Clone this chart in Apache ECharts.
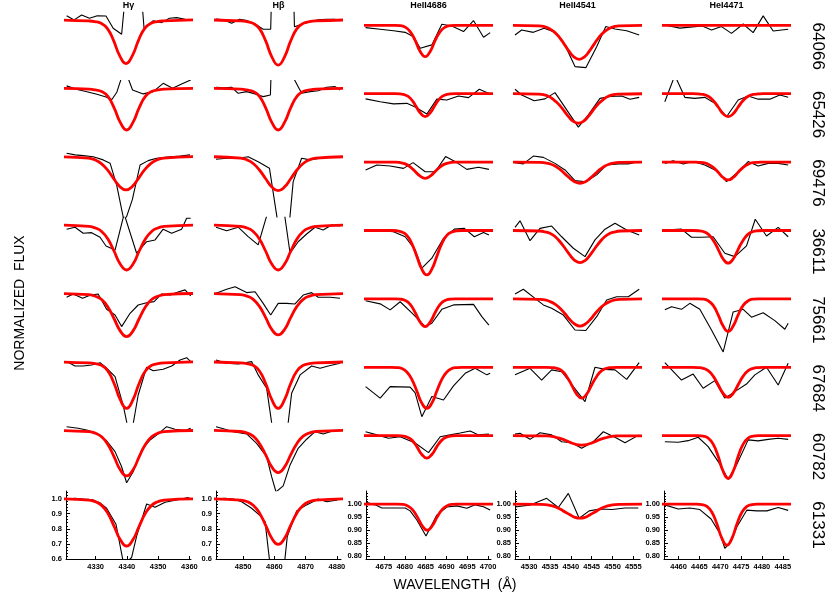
<!DOCTYPE html>
<html>
<head>
<meta charset="utf-8">
<script src="https://cdn.jsdelivr.net/npm/echarts@6/dist/echarts.min.js"></script>
<style>
  html, body { margin: 0; background: #fff; }
  #chart { width: 830px; height: 608px; }
</style>
</head>
<body>
<div id="chart"></div>
<script>
const stars = ['64066', '65426', '69476', '36611', '75661', '67684', '60782', '61331']
const lineNames = ['H\u03b3', 'H\u03b2', 'HeII4686', 'HeII4541', 'HeI4471']

const wlRanges = [[4320.5, 4360.5], [4841.3, 4881.3], [4670.7, 4700.7], [4526.6, 4556.6], [4456.5, 4486.5]]
const xTicks = [
  [4330, 4340, 4350, 4360],
  [4850, 4860, 4870, 4880],
  [4675, 4680, 4685, 4690, 4695, 4700],
  [4530, 4535, 4540, 4545, 4550, 4555],
  [4460, 4465, 4470, 4475, 4480, 4485]
]
const yRangeH = [0.6, 1.05]
const yRangeHe = [0.79, 1.05]
const yTicksH = [0.6, 0.7, 0.8, 0.9, 1.0]
const yTicksHe = [0.80, 0.85, 0.90, 0.95, 1.00]
const yMinorH = [0.62, 0.64, 0.66, 0.68, 0.72, 0.74, 0.76, 0.78, 0.82, 0.84, 0.86, 0.88, 0.92, 0.94, 0.96, 0.98, 1.02, 1.04]
const yMinorHe = [0.81, 0.82, 0.83, 0.84, 0.86, 0.87, 0.88, 0.89, 0.91, 0.92, 0.93, 0.94, 0.96, 0.97, 0.98, 0.99, 1.01, 1.02, 1.03, 1.04]

// observed spectra, [wavelength, flux], one array per star (top to bottom)
const obsHg = [
  [[4320.7,1.027],[4323.1,0.999],[4325.5,1.032],[4328.0,1.010],[4330.5,1.027],[4333.3,1.025],[4335.6,0.944],[4338.3,0.904],[4340.8,1.45],[4343.0,1.60],[4345.5,0.937],[4348.4,0.994],[4351.1,0.981],[4353.6,1.010],[4355.9,1.014],[4358.6,1.003],[4360.4,0.999]],
  [[4320.7,1.015],[4324.1,0.991],[4327.5,0.975],[4330.4,0.960],[4333.3,0.942],[4335.2,0.925],[4336.8,0.975],[4339.2,1.13],[4341.8,0.988],[4345.2,0.962],[4348.4,0.977],[4351.6,1.032],[4354.6,0.999],[4357.5,1.028],[4360.4,1.054]],
  [[4320.7,1.022],[4323.4,1.011],[4326.0,1.006],[4329.2,0.999],[4332.4,0.978],[4334.6,0.956],[4336.7,0.812],[4339.2,0.560],[4341.7,0.713],[4344.2,0.944],[4346.8,0.973],[4349.5,0.989],[4353.8,0.999],[4357.0,1.004],[4360.2,1.011]],
  [[4320.7,0.972],[4323.4,0.985],[4326.0,0.945],[4328.7,0.949],[4331.4,0.919],[4333.3,0.861],[4336.2,0.834],[4339.1,1.073],[4343.1,0.813],[4346.3,0.889],[4349.0,0.901],[4351.6,0.972],[4354.3,0.945],[4357.5,0.972],[4359.1,1.044],[4360.4,1.044]],
  [[4320.7,0.974],[4322.8,0.996],[4325.8,0.968],[4328.4,0.989],[4330.8,0.996],[4333.5,0.895],[4336.2,0.857],[4338.3,0.780],[4341.0,0.868],[4343.6,0.923],[4346.3,0.938],[4348.7,0.945],[4351.1,0.996],[4353.8,0.989],[4355.9,1.005],[4358.6,1.023],[4360.4,0.983]],
  [[4320.7,1.001],[4323.4,0.972],[4326.0,0.972],[4328.7,0.979],[4331.4,0.994],[4333.5,0.957],[4336.2,0.901],[4338.9,0.703],[4341.1,0.482],[4343.6,0.780],[4346.3,0.964],[4348.4,0.941],[4351.6,0.950],[4354.3,0.972],[4357.0,1.012],[4359.1,1.027],[4360.4,1.001]],
  [[4320.7,1.023],[4324.4,1.013],[4327.1,1.001],[4330.3,0.979],[4333.5,0.930],[4336.2,0.858],[4338.3,0.758],[4339.9,0.652],[4342.0,0.725],[4344.7,0.869],[4347.4,0.935],[4350.0,0.975],[4352.7,1.023],[4355.4,1.006],[4358.6,0.997],[4360.4,1.013]],
  [[4320.7,0.997],[4323.4,1.002],[4326.0,0.997],[4329.2,0.991],[4331.4,0.971],[4333.5,0.936],[4336.5,0.830],[4339.0,0.560],[4341.5,0.610],[4343.2,0.759],[4346.3,0.964],[4349.0,0.942],[4352.2,0.976],[4355.9,0.991],[4359.6,1.006],[4360.5,0.997]]
]
const obsHb = [
  [[4841.3,1.005],[4843.9,0.999],[4846.3,0.977],[4848.8,1.003],[4851.3,0.994],[4853.8,0.972],[4856.4,0.937],[4858.8,0.937],[4861.3,3.0],[4863.9,3.0],[4866.4,0.954],[4869.0,0.972],[4871.4,0.987],[4874.0,0.999],[4876.7,1.003],[4879.2,1.003],[4881.0,0.994]],
  [[4841.3,1.006],[4843.9,1.003],[4846.3,1.006],[4848.4,0.966],[4851.1,0.977],[4853.8,0.962],[4856.4,0.944],[4858.7,0.955],[4861.2,2.5],[4863.7,2.0],[4866.3,1.06],[4868.7,0.966],[4871.4,0.977],[4874.0,0.983],[4876.7,1.006],[4879.4,1.010],[4881.0,0.988]],
  [[4841.3,0.982],[4844.7,0.989],[4848.4,0.989],[4851.6,0.999],[4854.8,0.966],[4858.4,0.923],[4860.9,0.587],[4863.4,0.25],[4866.0,0.834],[4868.7,0.989],[4871.4,0.978],[4874.6,0.989],[4877.8,0.999],[4881.0,0.999]],
  [[4841.3,0.985],[4844.7,0.962],[4848.4,0.985],[4851.6,0.923],[4854.8,0.868],[4857.6,1.066],[4860.0,1.25],[4862.4,1.19],[4865.0,0.813],[4867.6,0.889],[4870.3,0.940],[4873.0,0.985],[4875.6,0.967],[4878.3,1.000],[4881.0,0.993]],
  [[4841.3,1.001],[4844.7,1.027],[4847.4,1.044],[4851.1,1.005],[4853.8,1.011],[4856.4,0.934],[4858.8,0.857],[4861.2,0.934],[4863.9,0.934],[4866.6,0.930],[4869.2,0.989],[4871.9,1.005],[4874.0,0.974],[4877.8,0.974],[4881.0,0.968]],
  [[4841.3,1.012],[4844.7,0.990],[4848.4,0.985],[4852.7,1.001],[4854.8,0.913],[4857.5,0.825],[4860.0,0.47],[4862.5,0.26],[4865.5,0.791],[4868.2,0.913],[4871.9,0.972],[4874.6,0.957],[4877.2,0.972],[4881.0,0.990]],
  [[4841.3,1.023],[4843.1,1.013],[4846.8,0.990],[4851.1,0.975],[4854.3,0.913],[4857.5,0.825],[4859.1,0.692],[4860.5,0.591],[4862.8,0.631],[4865.0,0.770],[4867.6,0.880],[4870.3,0.940],[4873.0,0.990],[4875.6,0.975],[4878.8,0.997],[4881.0,1.001]],
  [[4841.3,0.997],[4844.2,1.002],[4846.8,0.997],[4849.5,0.979],[4852.7,0.936],[4855.4,0.887],[4857.0,0.847],[4859.5,0.40],[4861.6,0.25],[4864.1,0.748],[4867.1,0.918],[4870.3,0.958],[4874.0,0.997],[4876.7,0.979],[4880.2,0.991]]
]
const obsHeII4686 = [
  [[4670.6,0.991],[4674.1,0.985],[4677.3,0.979],[4680.1,0.973],[4682.1,0.956],[4683.7,0.912],[4686.5,0.925],[4688.9,1.004],[4691.3,0.997],[4694.1,0.976],[4696.5,1.018],[4698.9,0.954],[4700.5,0.972]],
  [[4670.6,0.980],[4674.1,0.969],[4677.3,0.961],[4680.5,0.963],[4682.5,0.949],[4685.3,0.922],[4687.7,0.979],[4690.1,0.976],[4692.9,0.991],[4695.3,0.985],[4697.9,1.017],[4700.5,0.999]],
  [[4670.6,0.970],[4673.3,0.989],[4676.5,0.985],[4679.7,0.976],[4682.0,0.998],[4684.9,0.963],[4687.3,0.963],[4689.8,1.021],[4692.5,0.998],[4694.9,0.972],[4697.7,0.980],[4700.2,0.972]],
  [[4670.6,1.002],[4674.1,0.999],[4677.3,0.995],[4680.1,0.976],[4682.5,0.926],[4684.1,0.856],[4686.5,0.894],[4689.3,0.970],[4691.9,1.005],[4694.3,1.008],[4696.7,0.976],[4698.9,0.992],[4700.2,0.983]],
  [[4670.6,0.993],[4674.1,0.981],[4676.5,0.958],[4678.9,0.989],[4682.0,0.942],[4684.9,0.894],[4686.5,0.907],[4688.9,0.960],[4691.7,0.977],[4696.5,0.979],[4698.5,0.932],[4700.2,0.900]],
  [[4670.6,0.926],[4674.1,0.882],[4676.5,0.926],[4681.3,0.924],[4682.5,0.902],[4684.1,0.811],[4686.5,0.888],[4689.3,0.875],[4691.7,0.929],[4694.5,0.977],[4696.9,0.996],[4699.7,0.971],[4700.5,0.977]],
  [[4670.6,1.015],[4673.3,1.003],[4676.1,0.990],[4678.9,0.996],[4682.5,0.972],[4685.7,0.935],[4688.5,0.996],[4690.9,1.003],[4693.3,1.010],[4695.7,1.018],[4697.7,1.003],[4700.2,1.006]],
  [[4670.7,1.007],[4672.9,0.997],[4674.5,0.985],[4678.1,0.985],[4680.1,0.985],[4681.3,0.974],[4682.9,0.939],[4685.1,0.878],[4687.7,0.958],[4690.1,0.989],[4692.5,0.993],[4694.9,0.984],[4696.9,0.997],[4698.9,0.990],[4700.5,0.977]]
]
const obsHeII4541 = [
  [[4526.6,0.963],[4528.2,0.982],[4531.0,0.973],[4533.6,0.989],[4536.2,0.973],[4538.2,0.937],[4541.0,0.842],[4543.6,0.838],[4546.2,0.918],[4548.4,0.995],[4550.6,0.986],[4553.4,0.979],[4556.4,0.963]],
  [[4526.6,1.017],[4528.2,0.995],[4531.2,0.973],[4533.8,0.980],[4536.2,1.004],[4538.2,0.957],[4541.8,0.872],[4544.2,0.919],[4547.0,0.982],[4549.4,0.989],[4552.2,0.991],[4554.2,0.979],[4556.4,0.986]],
  [[4526.6,0.998],[4528.6,0.993],[4531.0,1.023],[4533.4,1.018],[4536.2,0.995],[4538.6,0.970],[4541.0,0.929],[4543.6,0.925],[4546.2,0.951],[4548.6,0.989],[4551.4,0.993],[4553.8,0.993],[4556.4,1.002]],
  [[4526.6,1.012],[4527.8,1.037],[4530.2,0.961],[4532.6,1.008],[4535.4,1.017],[4537.8,0.976],[4540.6,0.932],[4543.4,0.900],[4545.8,0.964],[4548.2,1.005],[4550.6,1.028],[4553.4,1.002],[4556.4,0.983]],
  [[4526.6,1.019],[4528.6,1.037],[4531.4,1.002],[4533.4,0.977],[4535.4,0.964],[4538.2,0.938],[4541.0,0.881],[4543.6,0.879],[4546.2,0.932],[4548.6,0.996],[4551.0,1.008],[4553.8,1.008],[4556.4,1.037]],
  [[4526.6,0.971],[4530.2,0.996],[4533.0,0.951],[4535.4,0.990],[4537.8,0.983],[4540.6,0.926],[4543.4,0.869],[4545.8,1.000],[4548.2,0.992],[4550.6,0.990],[4553.4,0.954],[4556.4,1.018]],
  [[4526.6,1.006],[4527.8,1.009],[4530.2,0.986],[4532.6,1.011],[4535.4,1.003],[4537.8,0.977],[4540.2,0.973],[4542.6,0.952],[4545.4,0.977],[4547.8,1.015],[4550.6,0.994],[4553.0,0.973],[4556.4,1.003]],
  [[4526.6,0.989],[4530.4,0.997],[4534.2,1.022],[4537.0,0.987],[4539.4,1.041],[4542.0,0.946],[4544.4,0.974],[4547.0,0.981],[4549.9,0.979],[4553.0,0.985],[4556.2,0.985]]
]
const obsHeI4471 = [
  [[4456.7,1.001],[4460.3,0.989],[4463.9,0.995],[4465.7,0.997],[4467.9,0.982],[4470.3,0.995],[4472.7,0.969],[4475.5,1.005],[4477.9,0.972],[4480.3,1.036],[4482.7,0.978],[4486.3,0.985]],
  [[4456.7,0.969],[4459.1,1.07],[4461.5,0.986],[4463.9,0.982],[4466.3,0.986],[4468.7,0.963],[4471.5,0.912],[4474.3,0.976],[4476.7,0.991],[4479.1,0.979],[4481.9,0.979],[4484.3,0.995],[4486.3,0.986]],
  [[4456.7,0.995],[4458.7,1.005],[4461.1,0.993],[4463.5,1.002],[4466.3,0.989],[4469.1,0.967],[4471.5,0.925],[4473.9,0.957],[4476.7,1.002],[4479.1,0.985],[4481.5,0.995],[4483.9,0.995],[4486.3,0.989]],
  [[4456.7,1.002],[4460.7,1.005],[4463.1,0.974],[4465.5,0.974],[4468.3,0.976],[4471.1,0.913],[4473.5,0.900],[4476.3,0.941],[4478.4,1.043],[4481.1,0.979],[4483.9,1.012],[4486.3,0.976]],
  [[4456.7,0.958],[4458.3,0.970],[4460.7,0.960],[4462.7,0.983],[4465.1,0.960],[4467.9,0.881],[4470.7,0.797],[4473.1,0.950],[4475.5,0.960],[4477.5,0.930],[4480.3,0.947],[4483.1,0.917],[4485.5,0.884],[4486.3,0.907]],
  [[4456.7,1.018],[4460.7,0.951],[4463.5,0.974],[4465.9,0.920],[4468.7,0.949],[4471.1,0.882],[4473.5,0.907],[4476.3,0.936],[4478.3,0.971],[4481.1,1.000],[4483.9,0.932],[4486.3,1.015]],
  [[4456.7,0.977],[4459.9,0.975],[4462.3,0.981],[4464.7,0.994],[4467.1,0.958],[4469.5,0.901],[4471.9,0.833],[4473.9,0.888],[4476.7,0.984],[4479.1,0.980],[4481.5,0.986],[4483.9,0.990],[4486.3,0.986]],
  [[4456.7,0.997],[4459.9,0.981],[4462.7,0.985],[4465.1,0.979],[4467.8,0.943],[4469.9,0.888],[4471.1,0.831],[4472.6,0.856],[4474.0,0.913],[4476.4,0.977],[4478.8,0.974],[4481.2,0.974],[4483.9,0.987],[4486.3,0.976]]
]

// model fits: sampled at line-centre offsets (Angstrom)
const redOffsetsH = [-22, -12, -10, -8, -6, -4, -2, 0, 2, 4, 6, 8, 10, 12, 22]
const redOffsetsHe = [-17, -9.6, -8.4, -7.2, -6, -4.8, -3.6, -2.4, -1.2, 0, 1.2, 2.4, 3.6, 4.8, 6, 7.2, 8.4, 9.6, 17]
const redCenters = [
  [4339.7, 4861.2, 4684.9, 4542.0, 4471.9],
  [4339.9, 4861.2, 4684.9, 4541.8, 4471.9],
  [4339.7, 4861.2, 4684.9, 4542.2, 4471.9],
  [4339.9, 4861.2, 4685.3, 4542.2, 4471.9],
  [4339.9, 4861.2, 4684.9, 4542.2, 4471.9],
  [4339.9, 4861.2, 4685.3, 4542.6, 4471.9],
  [4339.9, 4861.2, 4685.3, 4542.6, 4471.9],
  [4339.9, 4861.2, 4685.4, 4542.2, 4471.6]
]
const redHg = [
  [0.999,0.992,0.988,0.977,0.943,0.864,0.761,0.710,0.761,0.864,0.943,0.977,0.988,0.992,0.999],
  [0.999,0.993,0.988,0.978,0.945,0.870,0.772,0.723,0.772,0.870,0.945,0.978,0.988,0.993,0.999],
  [0.999,0.990,0.979,0.955,0.913,0.856,0.802,0.779,0.802,0.856,0.913,0.955,0.979,0.990,0.999],
  [0.999,0.990,0.980,0.957,0.907,0.826,0.740,0.702,0.740,0.826,0.907,0.957,0.980,0.990,0.999],
  [0.999,0.991,0.981,0.959,0.910,0.832,0.750,0.713,0.750,0.832,0.910,0.959,0.981,0.991,0.999],
  [0.999,0.992,0.987,0.976,0.939,0.856,0.747,0.692,0.747,0.856,0.939,0.976,0.987,0.992,0.999],
  [0.998,0.990,0.980,0.956,0.905,0.823,0.736,0.697,0.736,0.823,0.905,0.956,0.980,0.990,0.998],
  [0.998,0.990,0.979,0.955,0.902,0.816,0.727,0.686,0.727,0.816,0.902,0.955,0.979,0.990,0.998]
]
const redHb = [
  [0.999,0.992,0.987,0.976,0.941,0.860,0.753,0.700,0.753,0.860,0.941,0.976,0.987,0.992,0.999],
  [0.999,0.993,0.988,0.978,0.945,0.870,0.772,0.723,0.772,0.870,0.945,0.978,0.988,0.993,0.999],
  [0.999,0.990,0.978,0.954,0.911,0.853,0.798,0.774,0.798,0.853,0.911,0.954,0.978,0.990,0.999],
  [0.999,0.990,0.980,0.957,0.907,0.826,0.740,0.702,0.740,0.826,0.907,0.957,0.980,0.990,0.999],
  [0.999,0.991,0.982,0.960,0.914,0.839,0.760,0.725,0.760,0.839,0.914,0.960,0.982,0.991,0.999],
  [0.999,0.992,0.987,0.976,0.939,0.856,0.747,0.692,0.747,0.856,0.939,0.976,0.987,0.992,0.999],
  [0.999,0.991,0.981,0.960,0.912,0.836,0.755,0.719,0.755,0.836,0.912,0.960,0.981,0.991,0.999],
  [0.998,0.990,0.980,0.956,0.905,0.823,0.736,0.697,0.736,0.823,0.905,0.956,0.980,0.990,0.998]
]
const redHeII4686 = [
  [1,1,1,1.000,0.999,0.993,0.976,0.942,0.900,0.880,0.900,0.942,0.976,0.993,0.999,1.000,1,1,1],
  [1,1,1,1.000,0.999,0.995,0.983,0.957,0.927,0.912,0.927,0.957,0.983,0.995,0.999,1.000,1,1,1],
  [1,1,1,1.000,0.998,0.993,0.982,0.964,0.946,0.938,0.946,0.964,0.982,0.993,0.998,1.000,1,1,1],
  [1,1,1.000,0.999,0.994,0.981,0.950,0.901,0.852,0.830,0.852,0.901,0.950,0.981,0.994,0.999,1.000,1,1],
  [1,1,1,1,0.999,0.994,0.979,0.948,0.911,0.894,0.911,0.948,0.979,0.994,0.999,1,1,1,1],
  [1,1,1,0.999,0.995,0.982,0.954,0.909,0.863,0.843,0.863,0.909,0.954,0.982,0.995,0.999,1,1,1],
  [1,1,1,1,0.999,0.995,0.983,0.958,0.928,0.914,0.928,0.958,0.983,0.995,0.999,1,1,1,1],
  [1,1,1,1,0.999,0.994,0.980,0.951,0.917,0.900,0.917,0.951,0.980,0.994,0.999,1,1,1,1]
]
const redHeII4541 = [
  [1,0.998,0.995,0.988,0.975,0.955,0.928,0.900,0.878,0.870,0.878,0.900,0.928,0.955,0.975,0.988,0.995,0.998,1],
  [1,0.998,0.996,0.990,0.978,0.961,0.938,0.913,0.894,0.887,0.894,0.913,0.938,0.961,0.978,0.990,0.996,0.998,1],
  [1,0.999,0.997,0.993,0.985,0.972,0.955,0.938,0.924,0.919,0.924,0.938,0.955,0.972,0.985,0.993,0.997,0.999,1],
  [1,0.998,0.995,0.989,0.977,0.957,0.932,0.906,0.885,0.877,0.885,0.906,0.932,0.957,0.977,0.989,0.995,0.998,1],
  [1,0.998,0.996,0.990,0.980,0.964,0.943,0.920,0.903,0.896,0.903,0.920,0.943,0.964,0.980,0.990,0.996,0.998,1],
  [1,1,1,0.999,0.996,0.987,0.965,0.932,0.897,0.882,0.897,0.932,0.965,0.987,0.996,0.999,1,1,1],
  [1,0.999,0.999,0.997,0.993,0.988,0.980,0.972,0.966,0.964,0.966,0.972,0.980,0.988,0.993,0.997,0.999,0.999,1],
  [1,0.999,0.998,0.995,0.990,0.981,0.970,0.959,0.949,0.946,0.949,0.959,0.970,0.981,0.990,0.995,0.998,0.999,1]
]
const redHeI4471 = [
  [1,1,1,1,1,1,1,1,1,1,1,1,1,1,1,1,1,1,1],
  [1,1,1,0.999,0.997,0.990,0.974,0.949,0.923,0.912,0.923,0.949,0.974,0.990,0.997,0.999,1,1,1],
  [1,1,1,0.999,0.998,0.992,0.980,0.961,0.941,0.932,0.941,0.961,0.980,0.992,0.998,0.999,1,1,1],
  [1,1,1,0.999,0.996,0.986,0.963,0.928,0.891,0.875,0.891,0.928,0.963,0.986,0.996,0.999,1,1,1],
  [1,1,1,1,0.999,0.993,0.975,0.939,0.896,0.875,0.896,0.939,0.975,0.993,0.999,1,1,1,1],
  [1,1,1,0.999,0.996,0.987,0.966,0.933,0.900,0.885,0.900,0.933,0.966,0.987,0.996,0.999,1,1,1],
  [1,1,1,1,0.998,0.991,0.968,0.921,0.864,0.837,0.864,0.921,0.968,0.991,0.998,1,1,1,1],
  [1,1,1,1,0.998,0.991,0.969,0.924,0.869,0.843,0.869,0.924,0.969,0.991,0.998,1,1,1,1]
]

const observed = [obsHg, obsHb, obsHeII4686, obsHeII4541, obsHeI4471]
const models = [redHg, redHb, redHeII4686, redHeII4541, redHeI4471]

const FONT = "'Liberation Sans', Arial, sans-serif"
const colLeft = [66, 216, 366, 515, 664]
const panelW = 125
const panelH = 68
const rowTop = r => 12.2 + 68.4 * r

const chart = echarts.init(document.getElementById('chart'), null, { renderer: 'canvas' })

const grid = []
const xAxis = []
const yAxis = []
const series = []
const graphic = []
const labelStyle = { color: '#000', fontSize: 7.5, fontWeight: 'bold', fontFamily: FONT, margin: 4 }

stars.forEach((star, r) => {
  lineNames.forEach((name, c) => {
    const idx = grid.length
    const isH = c < 2
    const bottomRow = r === stars.length - 1
    const yr = isH ? yRangeH : yRangeHe
    const yt = isH ? yTicksH : yTicksHe
    grid.push({ left: colLeft[c], top: rowTop(r), width: panelW, height: panelH })
    xAxis.push({
      gridIndex: idx,
      type: 'value',
      min: wlRanges[c][0],
      max: wlRanges[c][1],
      show: bottomRow,
      axisLine: { lineStyle: { color: '#000', width: 1 } },
      axisTick: { inside: true, length: 3, customValues: xTicks[c], lineStyle: { color: '#000' } },
      axisLabel: Object.assign({ customValues: xTicks[c], formatter: v => String(v) }, labelStyle),
      splitLine: { show: false }
    })
    yAxis.push({
      gridIndex: idx,
      type: 'value',
      min: yr[0],
      max: yr[1],
      show: bottomRow,
      axisLine: { show: true, lineStyle: { color: '#000', width: 1 } },
      axisTick: { inside: true, length: 4, customValues: yt, lineStyle: { color: '#000' } },
      axisLabel: Object.assign({ customValues: yt, formatter: v => v.toFixed(isH ? 1 : 2) }, labelStyle),
      splitLine: { show: false }
    })
    const offs = isH ? redOffsetsH : redOffsetsHe
    series.push({
      type: 'line',
      xAxisIndex: idx,
      yAxisIndex: idx,
      data: observed[c][r],
      symbol: 'none',
      clip: true,
      lineStyle: { color: '#000', width: 1.1 },
      z: 2
    })
    series.push({
      type: 'line',
      xAxisIndex: idx,
      yAxisIndex: idx,
      data: offs.map((o, i) => [redCenters[r][c] + o, models[c][r][i]]),
      symbol: 'none',
      smooth: 0.5,
      clip: true,
      lineStyle: { color: '#ff0000', width: 2.8 },
      z: 3
    })
  })
  graphic.push({
    type: 'text',
    x: 818,
    y: rowTop(r) + panelH / 2,
    rotation: -Math.PI / 2,
    style: {
      text: star, fill: '#000', font: '17px ' + FONT,
      align: 'center', verticalAlign: 'middle'
    }
  })
})

// minor ticks on the left axes of the bottom row
lineNames.forEach((name, c) => {
  const isH = c < 2
  const idx = grid.length
  grid.push({ left: colLeft[c], top: rowTop(stars.length - 1), width: panelW, height: panelH })
  xAxis.push({ gridIndex: idx, type: 'value', min: wlRanges[c][0], max: wlRanges[c][1], show: false })
  yAxis.push({
    gridIndex: idx,
    type: 'value',
    min: (isH ? yRangeH : yRangeHe)[0],
    max: (isH ? yRangeH : yRangeHe)[1],
    axisLine: { show: false },
    axisTick: { inside: true, length: 2, customValues: isH ? yMinorH : yMinorHe, lineStyle: { color: '#000' } },
    axisLabel: { show: false },
    splitLine: { show: false }
  })
})

lineNames.forEach((name, c) => {
  graphic.push({
    type: 'text',
    x: colLeft[c] + panelW / 2,
    y: 6,
    style: {
      text: name, fill: '#000', font: 'bold 9px ' + FONT,
      align: 'center', verticalAlign: 'middle'
    }
  })
})

graphic.push({
  type: 'text',
  x: 20,
  y: 303,
  rotation: Math.PI / 2,
  style: { text: 'NORMALIZED  FLUX', fill: '#000', font: '14px ' + FONT, align: 'center', verticalAlign: 'middle' }
})
graphic.push({
  type: 'text',
  x: 455,
  y: 585,
  style: { text: 'WAVELENGTH  (\u00c5)', fill: '#000', font: '14px ' + FONT, align: 'center', verticalAlign: 'middle' }
})

chart.setOption({
  animation: false,
  backgroundColor: '#fff',
  grid,
  xAxis,
  yAxis,
  series,
  graphic
})
</script>
</body>
</html>
